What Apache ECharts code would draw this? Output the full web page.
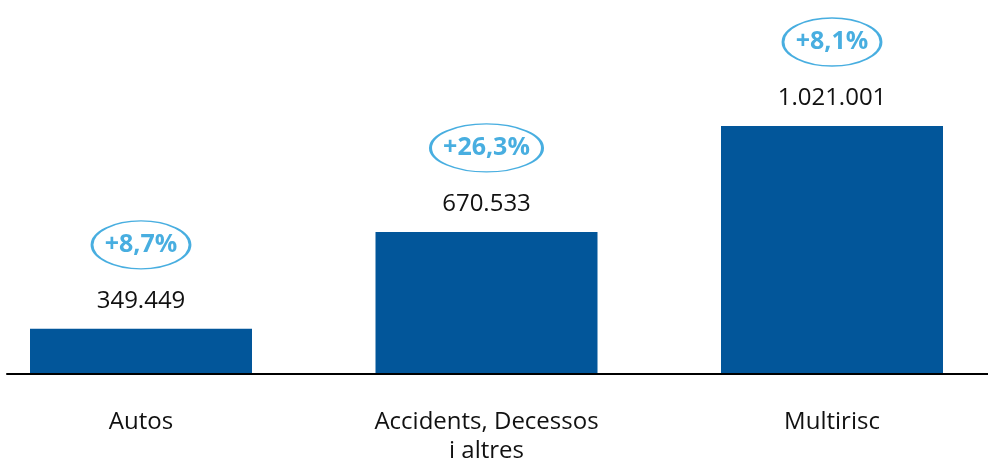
<!DOCTYPE html>
<html>
<head>
<meta charset="utf-8">
<script src="https://cdn.jsdelivr.net/npm/echarts@6/dist/echarts.min.js"></script>
<style>
  html, body { margin: 0; padding: 0; background: #ffffff; }
  #chart { width: 988px; height: 459px; }
</style>
</head>
<body>
<div id="chart"></div>
<script>
// Premium volume by line of business, with year-on-year growth
const categories = ['Autos', 'Accidents, Decessos\ni altres', 'Multirisc'];
const values = [349449, 670533, 1021001];
const growth = [8.7, 26.3, 8.1];

const BAR_BLUE = '#02569a';
const ACCENT_BLUE = '#1a9ad8';
const FONT = "'Open Sans', 'Noto Sans', sans-serif";
const GROWTH_FONT_SIZE = 25;

function formatThousands(v) {
  return String(v).replace(/\B(?=(\d{3})+(?!\d))/g, '.');
}
function formatGrowth(g) {
  return '+' + g.toFixed(1).replace('.', ',') + '%';
}

// Ellipse width follows the width of the growth text inside it
const measureCtx = document.createElement('canvas').getContext('2d');
measureCtx.font = 'bold ' + GROWTH_FONT_SIZE + 'px ' + FONT;
const growthLabels = growth.map(formatGrowth);
const ellipseWidths = growthLabels.map(t => Math.round(measureCtx.measureText(t).width + 25));

const chart = echarts.init(document.getElementById('chart'), null, { renderer: 'canvas' });

chart.setOption({
  animation: false,
  backgroundColor: '#ffffff',
  grid: [
    // bars sit on the category ticks
    { left: 141, right: 156, top: 72, bottom: 85, outerBoundsMode: 'none', containLabel: false },
    // full-width baseline
    { left: 7, right: 0, top: 72, bottom: 85, outerBoundsMode: 'none', containLabel: false }
  ],
  xAxis: [
    {
      gridIndex: 0,
      type: 'category',
      boundaryGap: false,
      data: categories,
      axisLine: { show: false },
      axisTick: { show: false },
      axisLabel: {
        interval: 0,
        margin: 34,
        color: '#111111',
        fontSize: 24,
        lineHeight: 29,
        fontFamily: FONT,
        align: 'center'
      }
    },
    {
      gridIndex: 1,
      type: 'category',
      data: [''],
      z: 5,
      axisLine: { show: true, lineStyle: { color: '#000000', width: 2 } },
      axisTick: { show: false },
      axisLabel: { show: false }
    }
  ],
  yAxis: [
    { gridIndex: 0, type: 'value', min: 200000, max: 1200000, show: false },
    { gridIndex: 1, type: 'value', show: false }
  ],
  series: [
    {
      type: 'bar',
      xAxisIndex: 0,
      yAxisIndex: 0,
      data: values,
      barWidth: 222,
      itemStyle: { color: BAR_BLUE },
      label: {
        show: true,
        position: 'top',
        distance: 16,
        color: '#111111',
        fontSize: 24,
        fontFamily: FONT,
        formatter: p => formatThousands(p.value)
      }
    },
    {
      type: 'scatter',
      xAxisIndex: 0,
      yAxisIndex: 0,
      data: values,
      clip: false,
      z: 4,
      symbol: 'circle',
      symbolSize: (val, params) => [ellipseWidths[params.dataIndex], 48],
      symbolOffset: [0, -84],
      itemStyle: { color: '#ffffff', borderColor: ACCENT_BLUE, borderWidth: 2 },
      label: {
        show: true,
        position: 'inside',
        color: ACCENT_BLUE,
        fontSize: GROWTH_FONT_SIZE,
        fontWeight: 'bold',
        fontFamily: FONT,
        formatter: p => growthLabels[p.dataIndex]
      },
      emphasis: { disabled: true }
    }
  ]
});
</script>
</body>
</html>
